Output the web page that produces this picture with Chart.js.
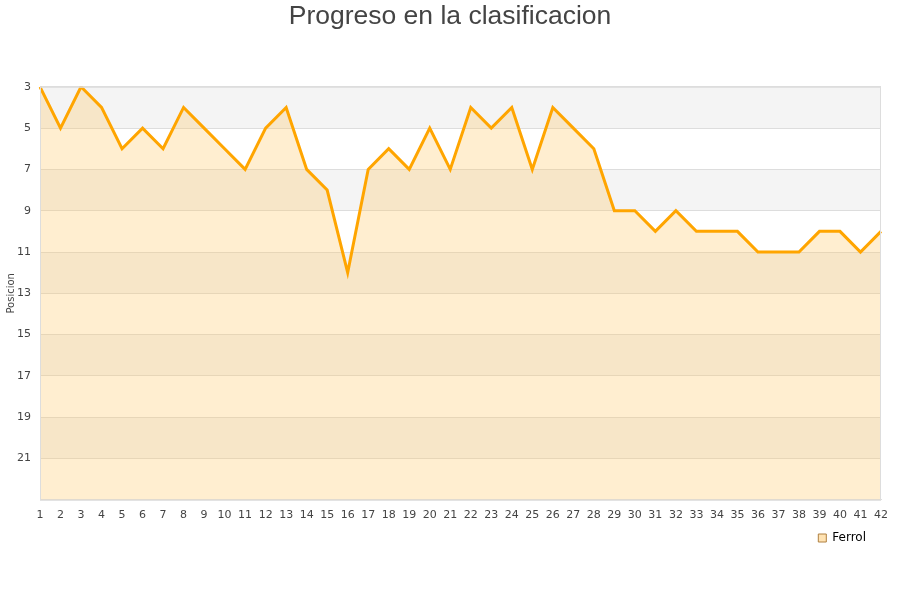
<!DOCTYPE html>
<html>
<head>
<meta charset="utf-8">
<script src="https://cdn.jsdelivr.net/npm/chart.js@4.4.0/dist/chart.umd.min.js"></script>
<style>
html,body{margin:0;padding:0;background:#fff;}
#wrap{width:900px;height:600px;}
</style>
</head>
<body>
<div id="wrap"><canvas id="c" width="900" height="600"></canvas></div>
<script>
const jornadas = ["1","2","3","4","5","6","7","8","9","10","11","12","13","14","15","16","17","18","19","20","21","22","23","24","25","26","27","28","29","30","31","32","33","34","35","36","37","38","39","40","41","42"];
const ferrol = [3,5,3,4,6,5,6,4,5,6,7,5,4,7,8,12,7,6,7,5,7,4,5,4,7,4,5,6,9,9,10,9,10,10,10,11,11,11,10,10,11,10];
const yMin = 3, yMax = 23, yStep = 2;

const bands = {
  id: 'bands',
  afterLayout(chart) {
    if (chart.legend) { chart.legend.left -= 7; chart.legend.right -= 7; chart.legend.top += 1; chart.legend.bottom += 1; }
    if (chart.titleBlock) { chart.titleBlock.left += 7; chart.titleBlock.right += 7; chart.titleBlock.top += 1; chart.titleBlock.bottom += 1; }
  },
  beforeDraw(chart) {
    const {ctx, chartArea: a, scales: {y}} = chart;
    ctx.save();
    let i = 0;
    for (let v = yMin; v < yMax; v += yStep, i++) {
      if (i % 2 === 0) {
        const p1 = y.getPixelForValue(v), p2 = y.getPixelForValue(v + yStep);
        ctx.fillStyle = '#f4f4f4';
        ctx.fillRect(a.left, Math.min(p1, p2), a.right - a.left, Math.abs(p2 - p1));
      }
    }
    ctx.restore();
  },
  afterDatasetsDraw(chart) {
    const {ctx, chartArea: a} = chart;
    ctx.save();
    ctx.strokeStyle = '#dddddd';
    ctx.lineWidth = 1;
    ctx.strokeRect(a.left + 0.5, a.top + 0.5, a.right - a.left - 1, a.bottom - a.top);
    ctx.restore();
  }
};

new Chart(document.getElementById('c'), {
  type: 'line',
  data: {
    labels: jornadas,
    datasets: [{
      label: 'Ferrol',
      data: ferrol,
      borderColor: '#FFA500',
      backgroundColor: 'rgba(255,200,100,0.3)',
      borderWidth: 3,
      pointRadius: 0,
      pointHoverRadius: 0,
      fill: 'start',
      tension: 0
    }]
  },
  options: {
    responsive: false,
    animation: false,
    layout: { padding: { left: 5, right: 19, top: 0, bottom: 47 } },
    plugins: {
      title: {
        display: true,
        text: 'Progreso en la clasificacion',
        color: '#444',
        font: { family: 'Liberation Sans', size: 26.5, weight: 'normal' },
        padding: { top: 0, bottom: 55 }
      },
      legend: {
        position: 'bottom',
        align: 'end',
        labels: {
          boxWidth: 8, boxHeight: 8,
          padding: 8,
          color: '#222',
          font: { family: 'DejaVu Sans', size: 12 },
          generateLabels(chart) {
            return [{ text: 'Ferrol', fillStyle: 'rgba(255,220,160,0.8)', strokeStyle: '#b08040', lineWidth: 1, hidden: false, datasetIndex: 0 }];
          }
        }
      },
      tooltip: { enabled: false }
    },
    scales: {
      x: {
        offset: false,
        grid: { display: false },
        border: { display: true, color: '#dddddd' },
        ticks: { color: '#444', font: { family: 'DejaVu Sans', size: 11 }, autoSkip: false, maxRotation: 0, minRotation: 0, padding: 1 }
      },
      y: {
        reverse: true,
        min: yMin, max: yMax,
        afterFit(s) { s.width = 35; },
        grid: { color: '#dddddd', drawTicks: false },
        border: { display: true, color: '#dddddd' },
        title: { display: true, text: 'Posicion', color: '#444', font: { family: 'DejaVu Sans', size: 10 }, padding: 0 },
        ticks: {
          stepSize: yStep,
          color: '#444',
          font: { family: 'DejaVu Sans', size: 11 },
          padding: 9,
          callback(v) { return v === yMax ? '' : v; }
        }
      }
    }
  },
  plugins: [bands]
});
</script>
</body>
</html>
